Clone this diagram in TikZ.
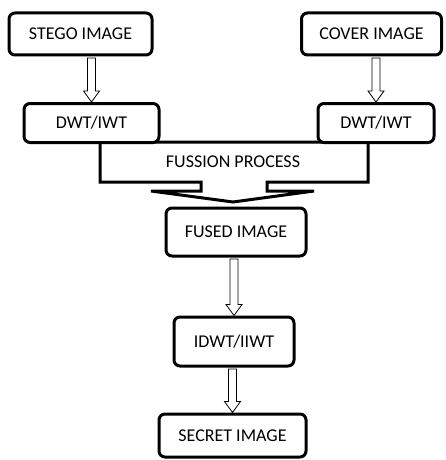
\documentclass[tikz,border=0pt]{standalone}
\usepackage{fontspec}
\setmainfont{Carlito}
\usetikzlibrary{calc}

\tikzset{
  block/.style={draw, line width=3pt, rounded corners=6pt, fill=white,
    inner sep=0pt, font=\fontsize{18}{20}\selectfont},
  label/.style={inner sep=0pt, font=\fontsize{18}{20}\selectfont},
  hollow/.style={draw, line width=0.8pt, fill=white, line join=miter},
  merge/.style={draw, line width=3pt, fill=white, line join=miter}
}

% hollow block arrow from the bottom of #1 to the top of #2
\newcommand{\hollowarrow}[2]{%
  \draw[hollow] ($(#2.north |- #1.south)+(-4,1.5)$) -- ($(#2.north)+(-4,-11)$)
    -- ($(#2.north)+(-8,-11)$) -- (#2.north) -- ($(#2.north)+(8,-11)$)
    -- ($(#2.north)+(4,-11)$) -- ($(#2.north |- #1.south)+(4,1.5)$) -- cycle;}

\begin{document}
\begin{tikzpicture}[x=1pt, y=-1pt]
  \useasboundingbox (0,0) rectangle (446,460);

  % Fusion shape
  \draw[merge] (100,142) -- (100,182) -- (201,182) -- (201,191) -- (151,191)
    -- (233,202) -- (314,191) -- (267,191) -- (267,182) -- (368,182)
    -- (368,142) -- cycle;
  \node[label] (fusion) at (233,162) {FUSSION PROCESS};

  %Define nodes
  \node[block, minimum width=143, minimum height=42] (stego) at (80.5,34) {STEGO IMAGE};
  \node[block, minimum width=140, minimum height=42] (cover) at (371.5,34) {COVER IMAGE};
  \node[block, minimum width=135, minimum height=39] (dwtl) at (91.5,123) {DWT/IWT};
  \node[block, minimum width=116, minimum height=39] (dwtr) at (376,123) {DWT/IWT};
  \node[block, minimum width=140, minimum height=48] (fused) at (236,232) {FUSED IMAGE};
  \node[block, minimum width=120, minimum height=49] (idwt) at (234,341.5) {IDWT/IIWT};
  \node[block, minimum width=147, minimum height=43] (secret) at (232.5,435.5) {SECRET IMAGE};

  % Connect the nodes
  \hollowarrow{stego}{dwtl}
  \hollowarrow{cover}{dwtr}
  \hollowarrow{fused}{idwt}
  \hollowarrow{idwt}{secret}

\end{tikzpicture}
\end{document}
